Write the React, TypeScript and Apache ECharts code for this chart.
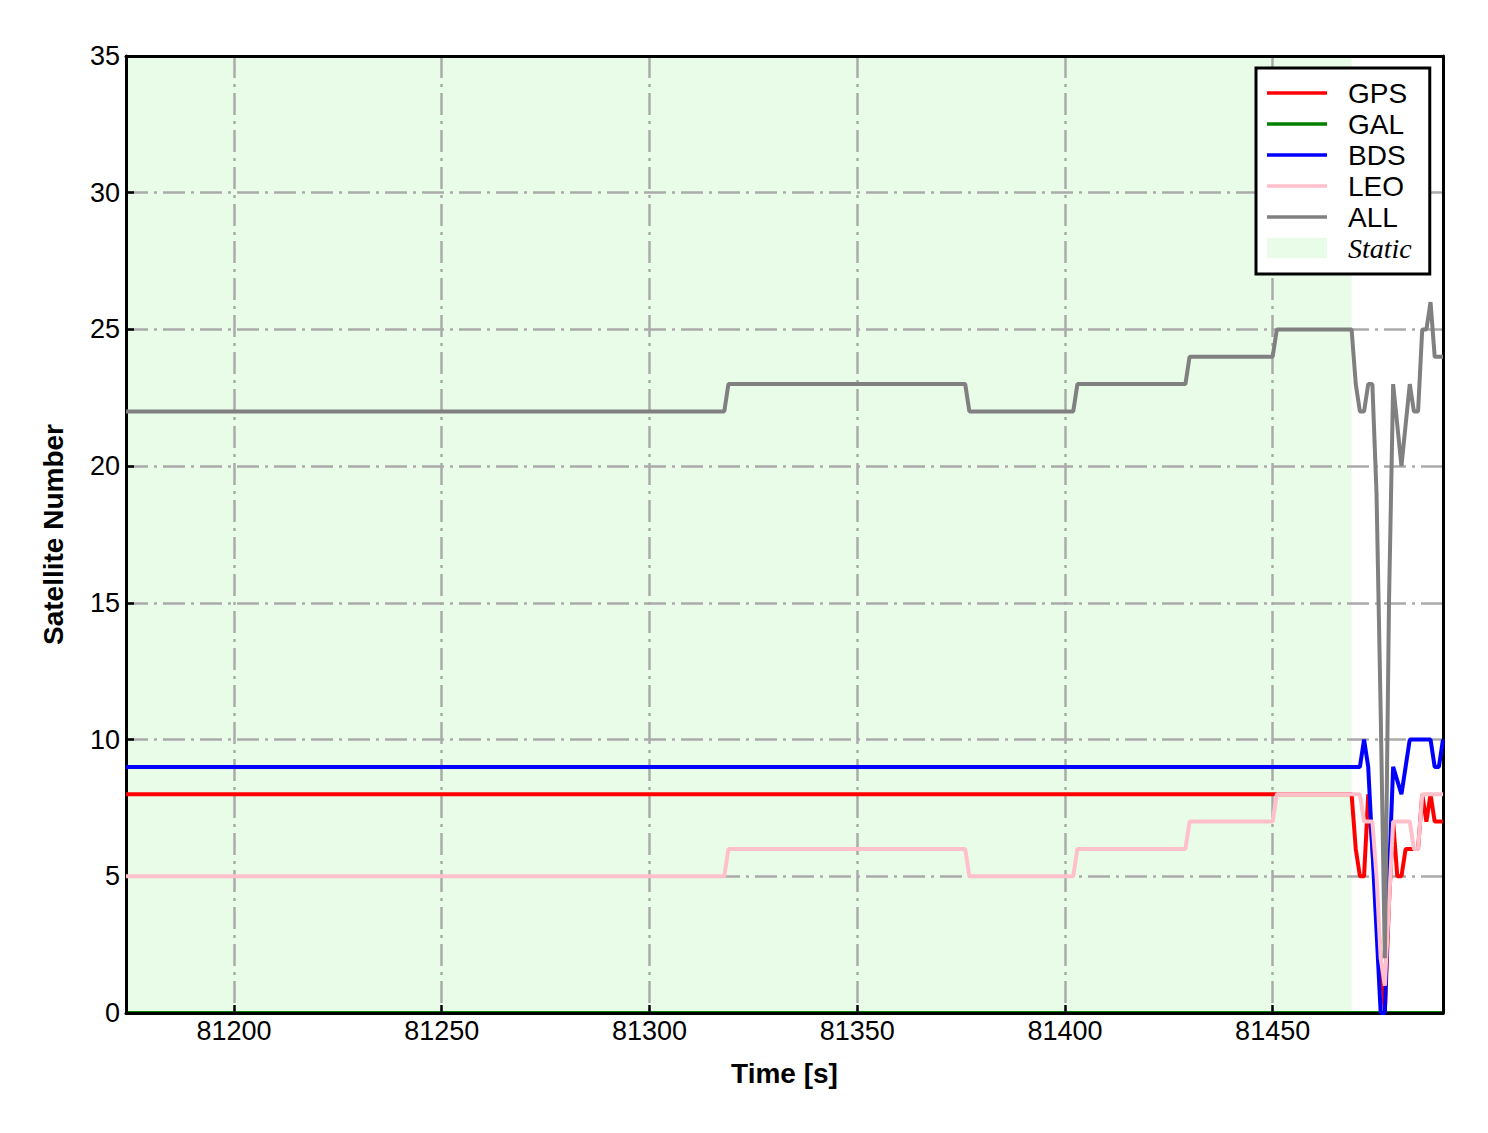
import React, { useEffect, useRef } from "react";
import * as echarts from "echarts";

const X_MIN = 81174;
const X_MAX = 81491;
const STATIC_START = 81174;
const STATIC_END = 81469;
const Y_TICKS = [0, 5, 10, 15, 20, 25, 30, 35];

const gpsData: [number, number][] = [
  [81174, 8], [81469, 8], [81470, 6], [81471, 5], [81472, 5], [81473, 8], [81474, 6],
  [81475, 4], [81476, 2], [81477, 0], [81478, 4], [81479, 7], [81480, 5], [81481, 5],
  [81482, 6], [81483, 6], [81484, 6], [81485, 6], [81486, 8], [81487, 7], [81488, 8],
  [81489, 7], [81490, 7], [81491, 7],
];
const galData: [number, number][] = [[81174, 0], [81491, 0]];
const bdsData: [number, number][] = [
  [81174, 9], [81471, 9], [81472, 10], [81473, 9], [81474, 6], [81475, 3], [81476, 0],
  [81477, 0], [81478, 5], [81479, 9], [81481, 8], [81482, 9], [81483, 10], [81484, 10],
  [81485, 10], [81486, 10], [81487, 10], [81488, 10], [81489, 9], [81490, 9], [81491, 10],
];
const leoData: [number, number][] = [
  [81174, 5], [81318, 5], [81319, 6], [81376, 6], [81377, 5], [81402, 5], [81403, 6],
  [81429, 6], [81430, 7], [81450, 7], [81451, 8], [81471, 8], [81472, 7], [81473, 7],
  [81474, 7], [81475, 5], [81476, 2], [81477, 1], [81478, 4], [81479, 7], [81480, 7],
  [81481, 7], [81482, 7], [81483, 7], [81484, 6], [81485, 6], [81486, 8], [81487, 8],
  [81488, 8], [81489, 8], [81490, 8], [81491, 8],
];
const allData: [number, number][] = [
  [81174, 22], [81318, 22], [81319, 23], [81376, 23], [81377, 22], [81402, 22], [81403, 23],
  [81429, 23], [81430, 24], [81450, 24], [81451, 25], [81469, 25], [81470, 23], [81471, 22],
  [81472, 22], [81473, 23], [81474, 23], [81475, 19], [81476, 11], [81477, 2], [81478, 15],
  [81479, 23], [81481, 20], [81483, 23], [81484, 22], [81485, 22], [81486, 25], [81487, 25],
  [81488, 26], [81489, 24], [81490, 24], [81491, 24],
];

const SERIES = [
  { name: "GPS", data: gpsData, color: "#ff0000", z: 3 },
  { name: "GAL", data: galData, color: "#008000", z: -0.5 },
  { name: "BDS", data: bdsData, color: "#0000ff", z: 3 },
  { name: "LEO", data: leoData, color: "#ffc0cb", z: 3 },
  { name: "ALL", data: allData, color: "#808080", z: 3 },
];

const FONT = "'Liberation Sans', Arial, sans-serif";
const STATIC_COLOR = "rgb(232,252,232)";
const GRID_LINE = { color: "#aaaaaa", width: 2.5, type: [22, 6, 3, 6] as number[] };
const LINE_ICON = "path://M0,0H60V3.5H0Z";

export default function App() {
  const ref = useRef<HTMLDivElement>(null);
  useEffect(() => {
    document.body.style.margin = "0";
    if (!ref.current) return;
    const chart = echarts.init(ref.current, null, { renderer: "svg" });
    const lineSeries = SERIES.map((s) => ({
      name: s.name,
      type: "line",
      data: s.data,
      showSymbol: false,
      symbol: "none",
      lineStyle: { color: s.color, width: 4 },
      itemStyle: { color: s.color },
      z: s.z,
    }));
    const tick = { show: true, inside: true, length: 8, lineStyle: { color: "#000", width: 2.5 } };
    const border = { show: true, onZero: false, lineStyle: { color: "#000", width: 3 } };
    chart.setOption({
      animation: false,
      textStyle: { fontFamily: FONT },
      grid: {
        left: 126,
        top: 56,
        right: 45,
        bottom: 120,
        show: false,
      },
      legend: {
        left: 1256,
        top: 68,
        orient: "vertical",
        selectedMode: false,
        itemWidth: 60,
        itemHeight: 20,
        itemGap: 3,
        padding: [11, 18, 12, 11],
        borderColor: "#000",
        borderWidth: 3,
        borderRadius: 0,
        backgroundColor: "#fff",
        textStyle: { fontSize: 28, color: "#000", fontFamily: FONT, padding: [0, 0, 0, 16] },
        data: [
          ...SERIES.map((s) => ({ name: s.name, icon: LINE_ICON, itemStyle: { color: s.color } })),
          {
            name: "Static",
            icon: "rect",
            itemStyle: { color: STATIC_COLOR },
            textStyle: { fontFamily: "'Liberation Serif', 'Times New Roman', serif", fontStyle: "italic", fontSize: 28 },
          },
        ],
      },
      xAxis: [
        {
          type: "value",
          min: X_MIN,
          max: X_MAX,
          name: "Time [s]",
          nameLocation: "middle",
          nameGap: 46,
          nameTextStyle: { fontSize: 28, fontWeight: "bold", color: "#000", fontFamily: FONT },
          axisLine: border,
          axisTick: tick,
          axisLabel: {
            fontSize: 27,
            color: "#000",
            margin: 4,
            showMinLabel: false,
            showMaxLabel: false,
            fontFamily: FONT,
            formatter: (v: number) => String(v),
          },
          splitLine: { show: true, showMinLine: false, showMaxLine: false, lineStyle: GRID_LINE },
        },
        {
          type: "value",
          position: "top",
          min: X_MIN,
          max: X_MAX,
          axisLine: border,
          axisTick: { show: false },
          axisLabel: { show: false },
          splitLine: { show: false },
        },
      ],
      yAxis: [
        {
          type: "value",
          min: Y_TICKS[0],
          max: Y_TICKS[Y_TICKS.length - 1],
          interval: 5,
          name: "Satellite Number",
          nameLocation: "middle",
          nameGap: 59,
          nameTextStyle: { fontSize: 28, fontWeight: "bold", color: "#000", fontFamily: FONT },
          axisLine: border,
          axisTick: tick,
          axisLabel: { fontSize: 27, color: "#000", margin: 6, fontFamily: FONT },
          splitLine: { show: true, showMinLine: false, showMaxLine: false, lineStyle: GRID_LINE },
        },
        {
          type: "value",
          position: "right",
          min: Y_TICKS[0],
          max: Y_TICKS[Y_TICKS.length - 1],
          interval: 5,
          axisLine: border,
          axisTick: { show: false },
          axisLabel: { show: false },
          splitLine: { show: false },
        },
      ],
      series: [
        {
          name: "Static",
          type: "line",
          data: [],
          z: -1,
          itemStyle: { color: STATIC_COLOR },
          lineStyle: { color: STATIC_COLOR },
          markArea: {
            silent: true,
            z: -1,
            itemStyle: { color: STATIC_COLOR },
            data: [[{ xAxis: STATIC_START }, { xAxis: STATIC_END }]],
          },
        },
        ...lineSeries,
      ],
    });
    return () => chart.dispose();
  }, []);
  return <div ref={ref} style={{ width: 1488, height: 1133 }} />;
}
